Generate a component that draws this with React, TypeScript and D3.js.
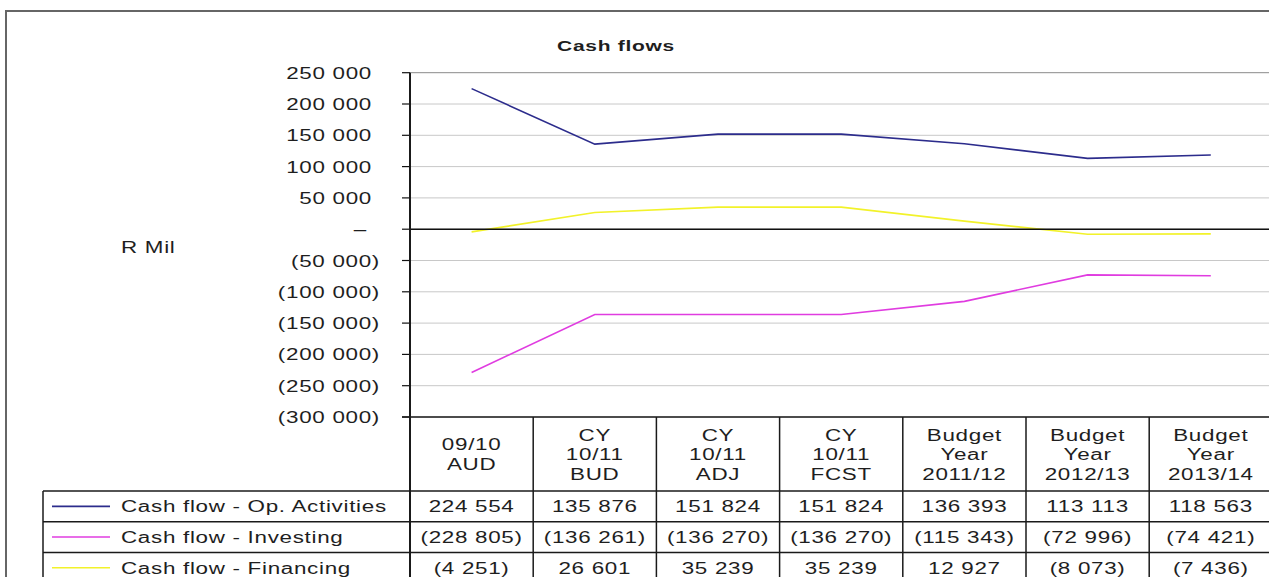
import React from "react";
import * as d3 from "d3";

// Column headings (one entry per period, split into display lines)
const periods: string[][] = [
  ["09/10", "AUD"],
  ["CY", "10/11", "BUD"],
  ["CY", "10/11", "ADJ"],
  ["CY", "10/11", "FCST"],
  ["Budget", "Year", "2011/12"],
  ["Budget", "Year", "2012/13"],
  ["Budget", "Year", "2013/14"],
];

const opActivities = [224554, 135876, 151824, 151824, 136393, 113113, 118563];
const investing = [-228805, -136261, -136270, -136270, -115343, -72996, -74421];
const financing = [-4251, 26601, 35239, 35239, 12927, -8073, -7436];

const seriesNames = [
  "Cash flow - Op. Activities",
  "Cash flow - Investing",
  "Cash flow - Financing",
];
const seriesColors = ["#2c2c8c", "#e03ce0", "#f2f22a"];

const yTickValues = [250000, 200000, 150000, 100000, 50000, 0, -50000, -100000, -150000, -200000, -250000, -300000];

const W = 1269;
const H = 577;
const FONT = "Arial, 'Liberation Sans', sans-serif";
const SX = 1.4;

const plotLeft = 410;
const bandW = 123.2;
const plotTop = 72.7;
const plotBottom = 417;
const headerBottom = 491;
const rowH = 30.7;
const legendLeft = 43;

const thousands = d3.format(",");
const fmtNum = (v: number) => {
  const s = thousands(Math.abs(v)).replace(/,/g, " ");
  return v < 0 ? `(${s})` : s;
};

// Text with the wide glyph aspect of the exported chart
function T({
  x,
  y,
  anchor = "start",
  size = 16,
  weight = "normal",
  children,
}: {
  x: number;
  y: number;
  anchor?: "start" | "middle" | "end";
  size?: number;
  weight?: string;
  children: React.ReactNode;
}) {
  return (
    <text
      transform={`translate(${x},${y}) scale(${SX},1)`}
      textAnchor={anchor}
      fontFamily={FONT}
      fontSize={size}
      fontWeight={weight}
      letterSpacing={0.5}
      fill="#1e1e1e"
    >
      {children}
    </text>
  );
}

export default function App() {
  const idx = periods.map((_, i) => String(i));
  const x = d3
    .scaleBand<string>()
    .domain(idx)
    .range([plotLeft, plotLeft + bandW * periods.length])
    .padding(0);
  const y = d3.scaleLinear().domain([-300000, 250000]).range([plotBottom, plotTop]);
  const cx = (i: number) => (x(String(i)) as number) + x.bandwidth() / 2;

  const line = d3
    .line<number>()
    .x((_, i) => cx(i))
    .y((d) => y(d));

  const series = [opActivities, investing, financing];
  const right = plotLeft + bandW * periods.length;

  return (
    <svg
      width={W}
      height={H}
      style={{ position: "absolute", left: 0, top: 0, background: "#fff" }}
    >
      <rect x={0} y={0} width={W} height={H} fill="#fff" />
      {/* chart frame */}
      <path d={`M6,${H + 5} V11 H${W + 5}`} fill="none" stroke="#666" strokeWidth={2} />

      <T x={616} y={51} anchor="middle" size={15} weight="bold">
        Cash flows
      </T>

      <T x={121} y={253}>R Mil</T>

      {/* gridlines */}
      {yTickValues.map((v) => (
        <line
          key={"g" + v}
          x1={plotLeft}
          x2={right}
          y1={y(v)}
          y2={y(v)}
          stroke={v === 250000 ? "#8a8a8a" : "#c8c8c8"}
          strokeWidth={1}
        />
      ))}

      {/* value axis */}
      {yTickValues.map((v) => (
        <g key={"t" + v}>
          <line x1={402} x2={plotLeft} y1={y(v)} y2={y(v)} stroke="#111" strokeWidth={1.2} />
          {v === 0 ? (
            <T x={367} y={y(v) + 6} anchor="end">
              –
            </T>
          ) : (
            <T x={v < 0 ? 380 : 372} y={y(v) + 6} anchor="end">
              {fmtNum(v)}
            </T>
          )}
        </g>
      ))}

      {/* series lines */}
      {series.map((s, k) => (
        <path key={"s" + k} d={line(s) as string} fill="none" stroke={seriesColors[k]} strokeWidth={1.6} />
      ))}

      {/* zero line */}
      <line x1={plotLeft} x2={right} y1={y(0)} y2={y(0)} stroke="#111" strokeWidth={1.5} />

      {/* data table */}
      <g stroke="#1a1a1a" strokeWidth={1.5}>
        <line x1={402} x2={right} y1={plotBottom} y2={plotBottom} />
        <line x1={plotLeft} x2={plotLeft} y1={plotTop} y2={H + 5} strokeWidth={2} />
        {idx.slice(1).map((k) => (
          <line key={"c" + k} x1={x(k)} x2={x(k)} y1={plotBottom} y2={H + 5} />
        ))}
        {[0, 1, 2].map((r) => (
          <line
            key={"r" + r}
            x1={legendLeft}
            x2={right}
            y1={headerBottom + r * rowH}
            y2={headerBottom + r * rowH}
          />
        ))}
        <line x1={legendLeft} x2={legendLeft} y1={headerBottom} y2={H + 5} />
      </g>

      {/* column headings */}
      {periods.map((lines, i) => {
        const lh = 19.5;
        const mid = (plotBottom + headerBottom) / 2;
        const first = mid - ((lines.length - 1) * lh) / 2 + 6;
        return (
          <g key={"h" + i}>
            {lines.map((t, j) => (
              <T key={j} x={cx(i)} y={first + j * lh} anchor="middle">
                {t}
              </T>
            ))}
          </g>
        );
      })}

      {/* table rows: legend key, name and values */}
      {series.map((s, k) => {
        const rowMid = headerBottom + k * rowH + rowH / 2;
        return (
          <g key={"row" + k}>
            <line x1={52} x2={110} y1={rowMid} y2={rowMid} stroke={seriesColors[k]} strokeWidth={1.6} />
            <T x={121} y={rowMid + 6}>
              {seriesNames[k]}
            </T>
            {s.map((v, i) => (
              <T key={i} x={cx(i)} y={rowMid + 6} anchor="middle">
                {fmtNum(v)}
              </T>
            ))}
          </g>
        );
      })}
    </svg>
  );
}
